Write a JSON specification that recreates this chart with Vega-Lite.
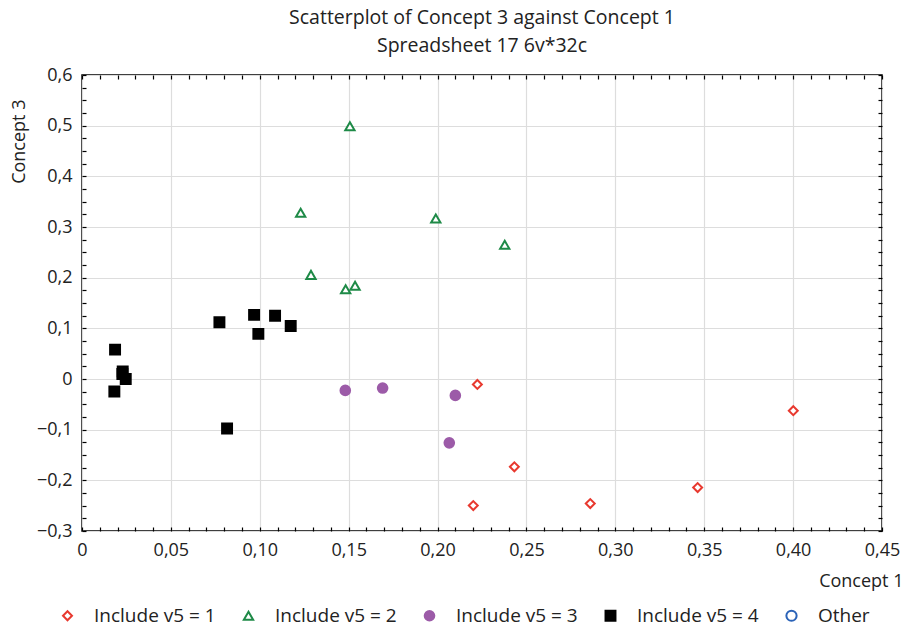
{
  "$schema": "https://vega.github.io/schema/vega-lite/v6.json",
  "width": 800,
  "height": 456,
  "autosize": "none",
  "padding": {"left": 82, "top": 75, "right": 22, "bottom": 97},
  "background": "white",
  "title": {
    "text": ["Scatterplot of Concept 3 against Concept 1", "Spreadsheet 17 6v*32c"],
    "font": "Open Sans",
    "fontSize": 19.5,
    "fontWeight": "normal",
    "color": "#222",
    "anchor": "middle",
    "lineHeight": 28,
    "offset": 10
  },
  "config": {
    "view": {"stroke": "black", "strokeWidth": 1.5},
    "axis": {"labelFont": "Open Sans", "titleFont": "Open Sans", "labelColor": "#222", "titleColor": "#222", "tickColor": "black", "domain": false}
  },
  "datasets": {
    "pts": [
      {"x": 0.2224, "y": -0.0107, "g": "Include v5 = 1"},
      {"x": 0.4001, "y": -0.0626, "g": "Include v5 = 1"},
      {"x": 0.2432, "y": -0.1733, "g": "Include v5 = 1"},
      {"x": 0.2201, "y": -0.2497, "g": "Include v5 = 1"},
      {"x": 0.2859, "y": -0.2458, "g": "Include v5 = 1"},
      {"x": 0.3463, "y": -0.2142, "g": "Include v5 = 1"},
      {"x": 0.1507, "y": 0.499, "g": "Include v5 = 2"},
      {"x": 0.1230, "y": 0.328, "g": "Include v5 = 2"},
      {"x": 0.1990, "y": 0.3167, "g": "Include v5 = 2"},
      {"x": 0.2378, "y": 0.2648, "g": "Include v5 = 2"},
      {"x": 0.1288, "y": 0.2055, "g": "Include v5 = 2"},
      {"x": 0.1483, "y": 0.177, "g": "Include v5 = 2"},
      {"x": 0.1536, "y": 0.184, "g": "Include v5 = 2"},
      {"x": 0.1481, "y": -0.0225, "g": "Include v5 = 3"},
      {"x": 0.1691, "y": -0.0178, "g": "Include v5 = 3"},
      {"x": 0.2100, "y": -0.0324, "g": "Include v5 = 3"},
      {"x": 0.2066, "y": -0.126, "g": "Include v5 = 3"},
      {"x": 0.0186, "y": 0.058, "g": "Include v5 = 4"},
      {"x": 0.0229, "y": 0.015, "g": "Include v5 = 4"},
      {"x": 0.0227, "y": 0.010, "g": "Include v5 = 4"},
      {"x": 0.0246, "y": 0.0, "g": "Include v5 = 4"},
      {"x": 0.0182, "y": -0.0245, "g": "Include v5 = 4"},
      {"x": 0.0773, "y": 0.112, "g": "Include v5 = 4"},
      {"x": 0.0968, "y": 0.1265, "g": "Include v5 = 4"},
      {"x": 0.1086, "y": 0.125, "g": "Include v5 = 4"},
      {"x": 0.1174, "y": 0.1047, "g": "Include v5 = 4"},
      {"x": 0.0992, "y": 0.089, "g": "Include v5 = 4"},
      {"x": 0.0816, "y": -0.0976, "g": "Include v5 = 4"}
    ]
  },
  "data": {"name": "pts"},
  "resolve": {"axis": {"x": "independent", "y": "independent"}},
  "layer": [
    {
      "mark": {"type": "point", "opacity": 0},
      "encoding": {
        "x": {"field": "x", "type": "quantitative", "scale": {"domain": [0, 0.45], "nice": false, "zero": false},
          "axis": {"orient": "bottom", "values": [0, 0.05, 0.1, 0.15, 0.2, 0.25, 0.3, 0.35, 0.4, 0.45], "grid": true, "gridColor": "#dddddd", "gridWidth": 1.2, "ticks": false, "labels": false, "domain": false, "title": null}},
        "y": {"field": "y", "type": "quantitative", "scale": {"domain": [-0.3, 0.6], "nice": false, "zero": false},
          "axis": {"orient": "left", "values": [-0.3, -0.2, -0.1, 0, 0.1, 0.2, 0.3, 0.4, 0.5, 0.6], "grid": true, "gridColor": "#dddddd", "gridWidth": 1.2, "ticks": false, "labels": false, "domain": false, "title": null}}
      }
    },
    {
      "mark": {"type": "point", "opacity": 0},
      "encoding": {
        "x": {"field": "x", "type": "quantitative",
          "axis": {"orient": "top", "values": [0,0.01,0.02,0.03,0.04,0.05,0.06,0.07,0.08,0.09,0.1,0.11,0.12,0.13,0.14,0.15,0.16,0.17,0.18,0.19,0.2,0.21,0.22,0.23,0.24,0.25,0.26,0.27,0.28,0.29,0.3,0.31,0.32,0.33,0.34,0.35,0.36,0.37,0.38,0.39,0.4,0.41,0.42,0.43,0.44,0.45], "grid": false, "tickSize": -4, "tickWidth": 1.2, "labels": false, "title": null}},
        "y": {"field": "y", "type": "quantitative",
          "axis": {"orient": "right", "values": [-0.3,-0.275,-0.25,-0.225,-0.2,-0.175,-0.15,-0.125,-0.1,-0.075,-0.05,-0.025,0,0.025,0.05,0.075,0.1,0.125,0.15,0.175,0.2,0.225,0.25,0.275,0.3,0.325,0.35,0.375,0.4,0.425,0.45,0.475,0.5,0.525,0.55,0.575,0.6], "grid": false, "tickSize": -4, "tickWidth": 1.2, "labels": false, "title": null}}
      }
    },
    {
      "mark": {"type": "point", "filled": false, "strokeWidth": 2, "opacity": 1},
      "encoding": {
        "x": {"field": "x", "type": "quantitative",
          "axis": {"orient": "bottom", "values": [0,0.01,0.02,0.03,0.04,0.05,0.06,0.07,0.08,0.09,0.1,0.11,0.12,0.13,0.14,0.15,0.16,0.17,0.18,0.19,0.2,0.21,0.22,0.23,0.24,0.25,0.26,0.27,0.28,0.29,0.3,0.31,0.32,0.33,0.34,0.35,0.36,0.37,0.38,0.39,0.4,0.41,0.42,0.43,0.44,0.45], "grid": false, "tickSize": -4, "tickWidth": 1.2,
            "labelExpr": "abs(datum.value*20 - round(datum.value*20)) > 0.001 ? '' : (datum.value == 0 ? '0' : replace(format(datum.value, '.2f'), '.', ','))",
            "labelFontSize": 18, "labelPadding": 14, "labelFlush": false, "labelOverlap": false, "labelBound": false,
            "title": "Concept 1", "titleFontSize": 18, "titleFontWeight": "normal", "titleX": 821, "titleY": 50, "titleAlign": "right", "titleBaseline": "middle"}},
        "y": {"field": "y", "type": "quantitative",
          "axis": {"orient": "left", "values": [-0.3,-0.275,-0.25,-0.225,-0.2,-0.175,-0.15,-0.125,-0.1,-0.075,-0.05,-0.025,0,0.025,0.05,0.075,0.1,0.125,0.15,0.175,0.2,0.225,0.25,0.275,0.3,0.325,0.35,0.375,0.4,0.425,0.45,0.475,0.5,0.525,0.55,0.575,0.6], "grid": false, "tickSize": -4, "tickWidth": 1.2,
            "labelExpr": "abs(datum.value*10 - round(datum.value*10)) > 0.001 ? '' : (datum.value == 0 ? '0' : replace(format(datum.value, '.1f'), '.', ','))",
            "labelFontSize": 18, "labelPadding": 14, "labelFlush": false, "labelOverlap": false, "labelBound": false,
            "title": "Concept 3", "titleFontSize": 18, "titleFontWeight": "normal", "titleX": -63, "titleY": 24, "titleAlign": "right", "titleBaseline": "middle", "titleAngle": -90}},
        "stroke": {"field": "g", "type": "nominal",
          "scale": {"domain": ["Include v5 = 1", "Include v5 = 2", "Include v5 = 3", "Include v5 = 4", "Other"], "range": ["#e8392f", "#1e8a47", "#9c5ba8", "#000000", "#2b63b8"]},
          "legend": {"title": null, "orient": "none", "direction": "horizontal", "legendX": -24, "legendY": 531, "labelFont": "Open Sans", "labelFontSize": 19, "labelColor": "#222", "labelOffset": 17, "columnPadding": 23, "symbolStrokeWidth": 2}},
        "fill": {"field": "g", "type": "nominal",
          "scale": {"domain": ["Include v5 = 1", "Include v5 = 2", "Include v5 = 3", "Include v5 = 4", "Other"], "range": ["#ffffff", "#ffffff", "#9c5ba8", "#000000", "#ffffff"]},
          "legend": {"title": null, "orient": "none", "direction": "horizontal", "legendX": -24, "legendY": 531, "labelFont": "Open Sans", "labelFontSize": 19, "labelColor": "#222", "labelOffset": 17, "columnPadding": 23, "symbolStrokeWidth": 2}},
        "shape": {"field": "g", "type": "nominal",
          "scale": {"domain": ["Include v5 = 1", "Include v5 = 2", "Include v5 = 3", "Include v5 = 4", "Other"], "range": ["diamond", "triangle-up", "circle", "square", "circle"]},
          "legend": {"title": null, "orient": "none", "direction": "horizontal", "legendX": -24, "legendY": 531, "labelFont": "Open Sans", "labelFontSize": 19, "labelColor": "#222", "labelOffset": 17, "columnPadding": 23, "symbolStrokeWidth": 2}},
        "size": {"field": "g", "type": "nominal",
          "scale": {"domain": ["Include v5 = 1", "Include v5 = 2", "Include v5 = 3", "Include v5 = 4", "Other"], "range": [80, 105, 110, 120, 80]},
          "legend": {"title": null, "orient": "none", "direction": "horizontal", "legendX": -24, "legendY": 531, "labelFont": "Open Sans", "labelFontSize": 19, "labelColor": "#222", "labelOffset": 17, "columnPadding": 23, "symbolStrokeWidth": 2}}
      }
    }
  ]
}
